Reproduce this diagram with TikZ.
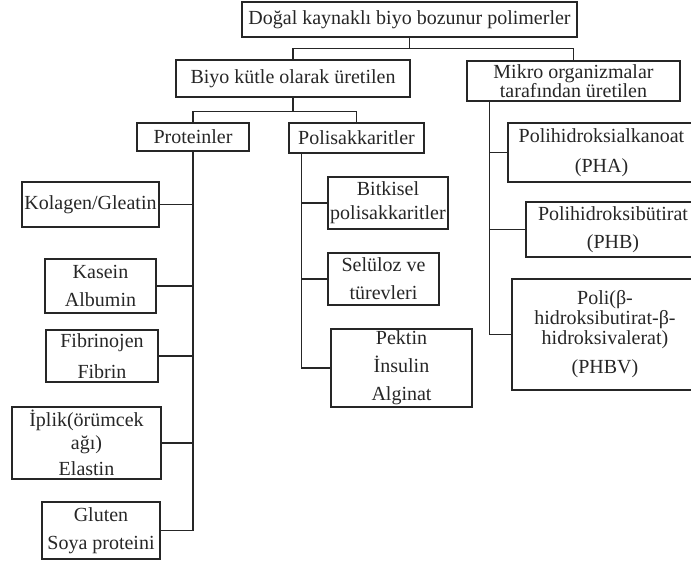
\documentclass[tikz,border=0pt]{standalone}
\usepackage{fontspec}
\setmainfont{Liberation Serif}
\begin{document}
\begin{tikzpicture}[x=1pt,y=-1pt,
  box/.style={draw=black!85, line width=1.3pt, inner sep=0pt, align=center,
    font=\fontsize{20}{28}\selectfont, text=black!85},
  link/.style={draw=black!85, line width=1.5pt}]
\useasboundingbox (0,0) rectangle (691,563);
\clip (0,0) rectangle (691,563);

% top level
\node[box, minimum width=335pt, minimum height=35pt] (top) at (409.5,19.5)
  {Doğal kaynaklı biyo bozunur polimerler};

% second level
\node[box, minimum width=234pt, minimum height=37pt] (biyo) at (293,78.5)
  {Biyo kütle olarak üretilen};
\node[box, minimum width=213pt, minimum height=40pt] (mikro) at (573.5,81)
  {Mikro organizmalar\\[-9pt]tarafından üretilen};

% third level
\node[box, minimum width=112pt, minimum height=28pt] (prot) at (193,137)
  {Proteinler};
\node[box, minimum width=135pt, minimum height=30pt] (polis) at (356.5,138)
  {Polisakkaritler};

% proteins
\node[box, minimum width=137pt, minimum height=45pt] (kolagen) at (90.5,204.5)
  {Kolagen/Gleatin};
\node[box, minimum width=111pt, minimum height=54pt] (kasein) at (100.5,286)
  {Kasein\\Albumin};
\node[box, minimum width=112pt, minimum height=52pt] (fibrin) at (102,356)
  {Fibrinojen\\[3pt]Fibrin};
\node[box, minimum width=149pt, minimum height=72pt] (iplik) at (86.5,443)
  {İplik(örümcek\\[-5pt]ağı)\\[-2pt]Elastin};
\node[box, minimum width=118pt, minimum height=57pt] (gluten) at (101,530.5)
  {Gluten\\Soya proteini};

% polysaccharides
\node[box, minimum width=120pt, minimum height=52pt] (bitkisel) at (388,203)
  {Bitkisel\\[-4pt]polisakkaritler};
\node[box, minimum width=111pt, minimum height=52pt] (seluloz) at (383.5,279)
  {Selüloz ve\\türevleri};
\node[box, minimum width=141pt, minimum height=78pt] (pektin) at (401.5,368)
  {Pektin\\İnsulin\\Alginat};

% microbial polymers
\node[box, minimum width=187pt, minimum height=59pt] (pha) at (601.5,152.5)
  {Polihidroksialkanoat\\[2pt](PHA)};
\node[box, minimum width=174pt, minimum height=55pt] (phb) at (613,229.5)
  {Polihidroksibütirat\\(PHB)};
\node[box, minimum width=186pt, minimum height=111pt] (phbv) at (605,334.5)
  {Poli(β-\\[-8pt]hidroksibutirat-β-\\[-8pt]hidroksivalerat)\\[1pt](PHBV)};

% connectors: top split
\draw[link] (top.south) -- ++(0,11) coordinate (j1);
\draw[link] (biyo.north) |- (j1) -| (mikro.north);

% connectors: biomass split
\draw[link] (biyo.south) -- ++(0,14) coordinate (j2);
\draw[link] (prot.north) |- (j2) -| (polis.north);

% protein trunk
\draw[link] (prot.south) |- (gluten.east);
\foreach \n in {kolagen,kasein,fibrin,iplik}
  \draw[link] (\n.east) -- (\n.east -| prot.south);

% polysaccharide trunk
\draw[link] ([xshift=13pt]polis.south west) coordinate (p0) |- (pektin.west);
\foreach \n in {bitkisel,seluloz}
  \draw[link] (\n.west) -- (\n.west -| p0);

% microbial trunk
\draw[link] ([xshift=23pt]mikro.south west) coordinate (m0) |- (phbv.west);
\foreach \n in {pha,phb}
  \draw[link] (\n.west) -- (\n.west -| m0);
\end{tikzpicture}
\end{document}
